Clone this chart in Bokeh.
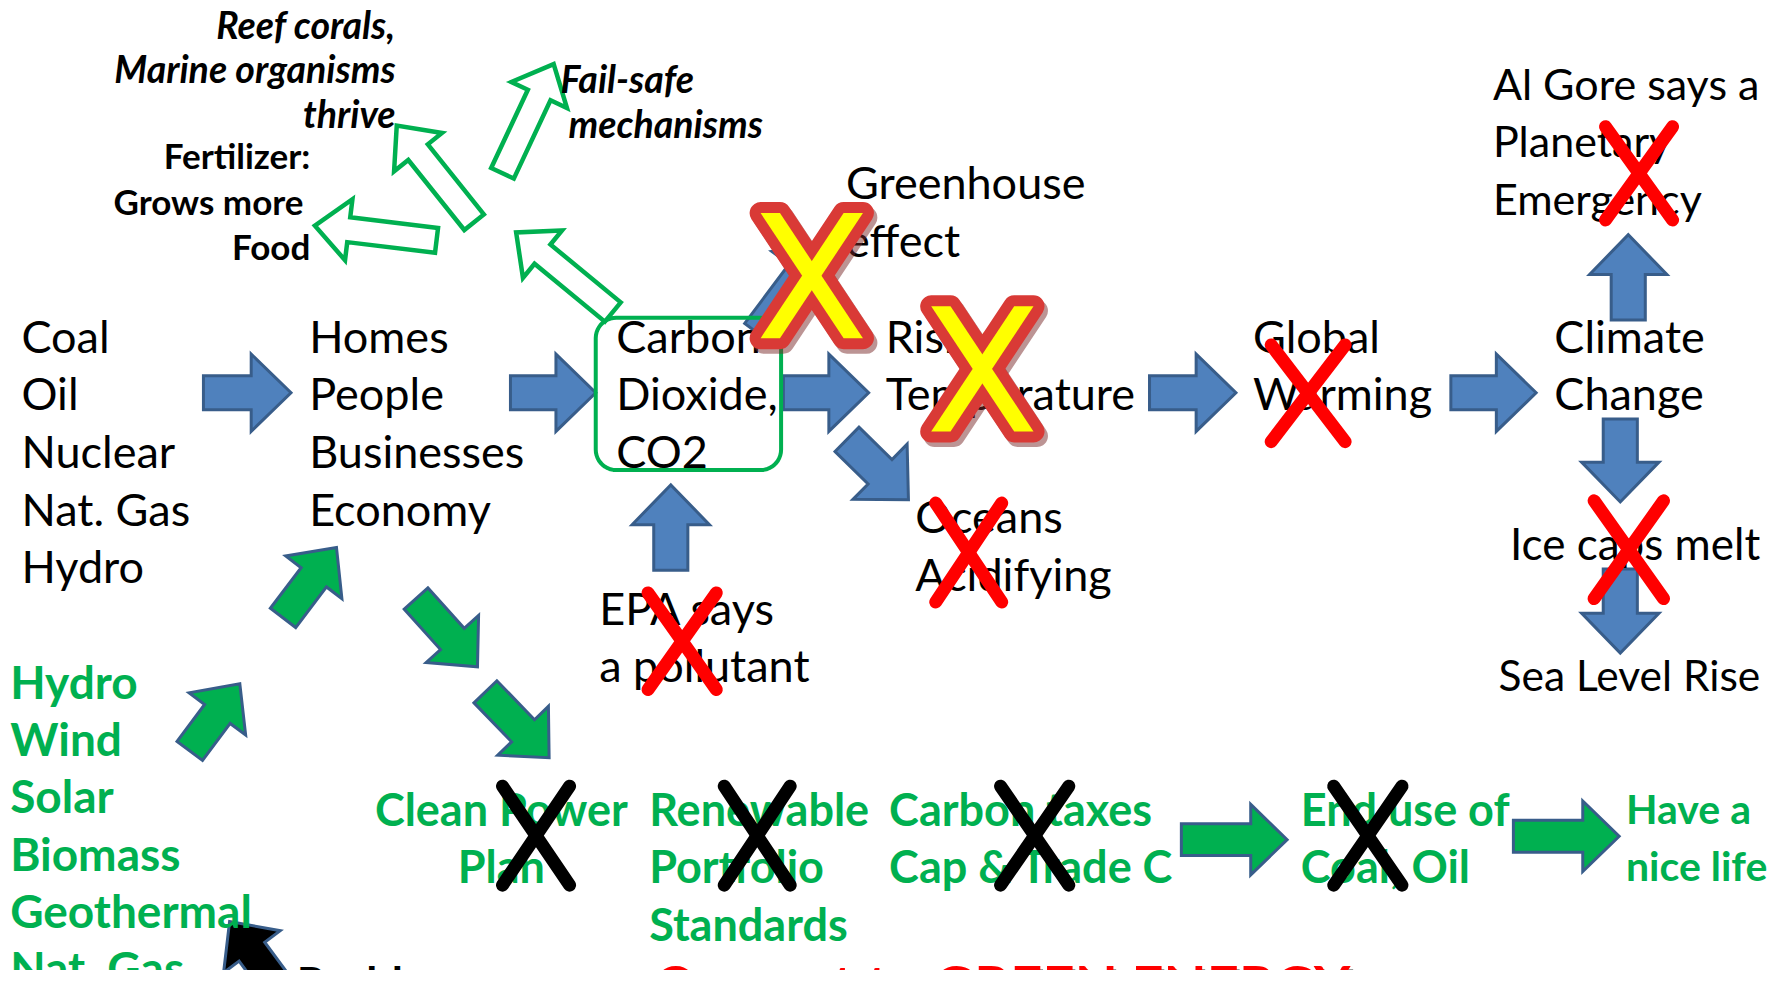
import numpy as np
from bokeh.plotting import figure
from bokeh.models import Range1d
from bokeh.core.properties import value
from bokeh.embed import file_html
from bokeh.resources import INLINE

# ---------------- content (texts) ----------------
sources_txt = ["Coal", "Oil", "Nuclear", "Nat. Gas", "Hydro"]
users_txt = ["Homes", "People", "Businesses", "Economy"]
co2_txt = ["Carbon", "Dioxide,", "CO2"]
greenhouse_txt = ["Greenhouse", "effect"]
rising_txt = ["Rising", "Temperature"]
global_txt = ["Global", "Warming"]
climate_txt = ["Climate", "Change"]
gore_txt = ["Al Gore says a", "Planetary", "Emergency"]
ice_txt = ["Ice caps melt"]
sea_txt = ["Sea Level Rise"]
oceans_txt = ["Oceans", "Acidifying"]
epa_txt = ["EPA says", "a pollutant"]
green_src_txt = ["Hydro", "Wind", "Solar", "Biomass", "Geothermal", "Nat. Gas"]
cpp_txt = ["Clean Power", "Plan"]
rps_txt = ["Renewable", "Portfolio", "Standards"]
tax_txt = ["Carbon taxes", "Cap & Trade C"]
end_txt = ["End use of", "Coal, Oil"]
nice_txt = ["Have a", "nice life"]
reef_txt = ["Reef corals,", "Marine organisms", "thrive"]
fert_txt = ["Fertilizer:", "Grows more", "Food"]
fail_txt = ["Fail-safe", "mechanisms"]
convert_txt = "Convert to GREEN ENERGY"
problems_txt = "Problems"

# ---------------- layout ----------------
S = 1783 / 1568.0
W, H = 1767, 970
DX, DY = 5.5, 5.0
p = figure(width=W, height=H, output_backend="svg", toolbar_location=None,
           x_range=Range1d(8 / S - DX, 1775 / S - DX), y_range=Range1d(978 / S - DY, 8 / S - DY),
           min_border=0, background_fill_color="white", border_fill_color="white")
p.axis.visible = False
p.grid.visible = False
p.outline_line_color = None

BLUE, BLUE_EDGE = "#4F81BD", "#385D8A"
GREEN = "#00B050"
RED = "#FF0000"
FONT = "Lato"


def arrow(tail, tip, sw, hw, hl):
    t = np.array(tail, float)
    e = np.array(tip, float)
    d = (e - t) / np.linalg.norm(e - t)
    n = np.array([-d[1], d[0]])
    b = e - hl * d
    pts = [t + sw * n, b + sw * n, b + hw * n, e, b - hw * n, b - sw * n, t - sw * n]
    return [q[0] for q in pts], [q[1] for q in pts]


def draw_arrows(specs, fill, edge, lw, sw, hw, hl):
    xs, ys = [], []
    for tail, tip in specs:
        ax, ay = arrow(tail, tip, sw, hw, hl)
        xs.append(ax)
        ys.append(ay)
    p.patches(xs, ys, fill_color=fill, line_color=edge, line_width=lw, line_join="miter")


# blue arrows (tail, tip)
blue_arrows = [((180, 347), (257, 347)), ((450, 347), (525, 347)), ((690, 347), (765, 347)),
               ((1012, 347), (1088, 347)), ((1277, 347), (1352, 347)),
               ((1433, 283), (1433, 208)), ((1426, 370), (1426, 443)), ((1426, 502), (1426, 576)),
               ((591, 503), (591, 428)), ((746, 388), (800, 441)), ((668, 295), (728, 215))]
draw_arrows(blue_arrows, BLUE, BLUE_EDGE, 3, 15, 34, 35)

green_arrows = [((168, 662), (212, 603)), ((250, 545), (297, 483)), ((367, 528), (421, 588)),
                ((428, 610), (484, 668))]
draw_arrows(green_arrows, GREEN, BLUE_EDGE, 3, 14, 31, 33)
green_h_arrows = [((1040, 740), (1133, 740)), ((1332, 737), (1425, 737))]
draw_arrows(green_h_arrows, GREEN, BLUE_EDGE, 3, 14, 31, 32)
black_arrows = [((257, 885), (203, 812))]
draw_arrows(black_arrows, "black", BLUE_EDGE, 3, 14, 31, 33)

hollow_arrows = [((540, 276), (455, 206)), ((418, 197), (350, 112)), ((385, 213), (278, 200)),
                 ((443, 154), (488, 58))]
draw_arrows(hollow_arrows, "white", GREEN, 4.5, 11, 27, 30)

# rounded box around CO2
box = (525, 688, 281, 415)
r = 18
bx, by = [], []
for cx, cy, a0 in [(box[1] - r, box[2] + r, -90), (box[1] - r, box[3] - r, 0),
                   (box[0] + r, box[3] - r, 90), (box[0] + r, box[2] + r, 180)]:
    ang = np.radians(np.linspace(a0, a0 + 90, 12))
    bx += list(cx + r * np.cos(ang))
    by += list(cy + r * np.sin(ang))
p.patch(bx, by, fill_color=None, line_color=GREEN, line_width=4)


# ---------------- texts ----------------
def lines(txts, x, ys, color="black", size="45px", style="normal", align="left", font=FONT):
    p.text(x=[x] * len(txts), y=ys, text=txts, text_color=color, text_font=value(font),
           text_font_size=size, text_font_style=style, text_align=align, text_baseline="middle")


lines(sources_txt, 20, [297, 347, 398, 449, 499])
lines(users_txt, 273, [297, 347, 398, 449])
lines(co2_txt, 543, [297, 347, 398])
lines(greenhouse_txt, 745, [162, 213])
lines(rising_txt, 780, [297, 347])
lines(global_txt, 1103, [297, 347])
lines(climate_txt, 1368, [297, 347])
lines(gore_txt, 1314, [75, 125, 176], size="43px")
lines(ice_txt, 1329, [479], size="44px")
lines(sea_txt, 1319, [595], size="42.5px")
lines(oceans_txt, 806, [455, 506])
lines(epa_txt, 528, [536, 586])

GS = "45px"
lines(green_src_txt, 10, [601, 651, 701, 752, 802, 852], GREEN, "46px", "bold")
lines(cpp_txt, 442, [713, 763], GREEN, GS, "bold", "center")
lines(rps_txt, 572, [713, 763, 814], GREEN, GS, "bold")
lines(tax_txt, 783, [713, 763], GREEN, GS, "bold")
lines(end_txt, 1145, [713, 763], GREEN, GS, "bold")
lines(nice_txt, 1431, [713, 763], GREEN, "41px", "bold")

IS = "37.5px"
BS = "35px"
lines(reef_txt, 349, [23, 62, 101], "black", IS, "bold italic", "right")
lines(fert_txt[:1], 274, [138], "black", BS, "bold", "right")
lines(fert_txt[1:2], 268, [178], "black", BS, "bold", "right")
lines(fert_txt[2:], 274, [218], "black", BS, "bold", "right")
lines(fail_txt[:1], 494, [71], "black", IS, "bold italic")
lines(fail_txt[1:], 501, [110], "black", IS, "bold italic")

p.text(x=[578.5], y=[840.5], text=[convert_txt], text_color="#999999", text_font=value(FONT),
       text_font_size="56px", text_font_style="bold", text_baseline="top")
p.text(x=[576], y=[838], text=[convert_txt], text_color=RED, text_font=value(FONT),
       text_font_size="56px", text_font_style="bold", text_baseline="top")
p.text(x=[262], y=[842], text=[problems_txt], text_color="black", text_font=value(FONT),
       text_font_size="45px", text_font_style="bold", text_baseline="top")


# ---------------- crosses ----------------
def thin_x(boxes, color, lw):
    x0, y0, x1, y1 = [], [], [], []
    for (l, rr, t, b) in boxes:
        x0 += [l + 6, rr - 6]
        y0 += [t + 5, t + 5]
        x1 += [rr - 6, l + 6]
        y1 += [b - 5, b - 5]
    p.segment(x0, y0, x1, y1, line_color=color, line_width=lw, line_cap="round")


red_x = [(1407, 1478, 108, 200), (1113, 1190, 300, 395), (1397, 1470, 437, 533),
         (818, 888, 439, 536), (565, 637, 518, 613)]
thin_x(red_x, RED, 13)
black_x = [(437, 508, 688, 785), (632, 702, 688, 785), (875, 947, 688, 785), (1168, 1240, 688, 785)]
thin_x(black_x, "black", 13)

big_x = [(715, 244), (865, 326)]
w, h, t = 45, 55, 17
sxs, sys_ = [], []
for cx, cy in big_x:
    sxs += [[cx - w, cx - w + t, cx + w, cx + w - t], [cx + w - t, cx + w, cx - w + t, cx - w]]
    sys_ += [[cy - h, cy - h, cy + h, cy + h], [cy - h, cy - h, cy + h, cy + h]]
p.patches([[v + 3 for v in a] for a in sxs], [[v + 4 for v in a] for a in sys_],
          fill_color="#7a2a2a", line_color="#7a2a2a", line_width=22, line_join="round", alpha=0.5)
p.patches(sxs, sys_, fill_color="#D93A36", line_color="#D93A36", line_width=22, line_join="round")
p.patches(sxs, sys_, fill_color="#FFFF00", line_color=None)

open("out.html", "w").write(file_html(p, INLINE))
